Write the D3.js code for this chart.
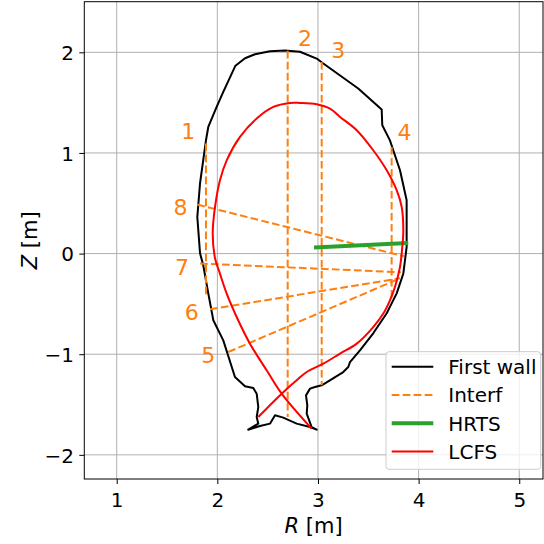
<!DOCTYPE html>
<html>
<head>
<meta charset="utf-8">
<script src="https://cdn.jsdelivr.net/npm/d3@7"></script>
<style>
  body { margin: 0; background: #fff; }
  svg { font-family: "DejaVu Sans", sans-serif; }
</style>
</head>
<body>
<div id="chart"></div>
<script>
// first wall contour (R, Z in m)
const wallR = [2.672, 2.821, 2.987, 3.053, 3.400, 3.633, 3.639, 3.715, 3.815, 3.881, 3.881, 3.881,
  3.848, 3.782, 3.683, 3.549, 3.417, 3.318, 3.301, 3.251, 3.037, 2.970, 2.921, 2.881, 2.894,
  2.888, 2.937, 2.987, 2.921, 2.788, 2.655, 2.573, 2.523, 2.424, 2.307, 2.407, 2.391, 2.407,
  2.391, 2.357, 2.275, 2.175, 2.059, 1.960, 1.910, 1.860, 1.828, 1.801, 1.828, 1.887, 1.910,
  1.990, 2.059, 2.180, 2.275, 2.374, 2.523, 2.672];
const wallZ = [2.018, 2.006, 1.938, 1.889, 1.640, 1.431, 1.275, 1.125, 0.828, 0.530, 0.232, 0.066,
  -0.199, -0.395, -0.593, -0.792, -0.961, -1.078, -1.127, -1.177, -1.309, -1.326, -1.342, -1.409, -1.508,
  -1.590, -1.724, -1.750, -1.724, -1.690, -1.630, -1.607, -1.690, -1.714, -1.750, -1.690, -1.624, -1.525,
  -1.392, -1.336, -1.319, -1.227, -0.862, -0.663, -0.395, -0.116, 0.003, 0.364, 0.699, 1.126, 1.258,
  1.450, 1.606, 1.867, 1.941, 1.981, 2.011, 2.018];

// last closed flux surface
const lcfsR = [2.937, 2.639, 2.490, 2.324, 2.192, 2.093, 2.026, 1.977, 1.954, 1.977, 2.026, 2.093,
  2.225, 2.391, 2.556, 2.722, 2.821, 2.987, 3.119, 3.219, 3.385, 3.549, 3.683, 3.782, 3.832,
  3.848, 3.838, 3.815, 3.765, 3.715, 3.649, 3.549, 3.385, 3.219, 3.053, 2.888, 2.788, 2.639, 2.407];
const lcfsZ = [-1.740, -1.392, -1.160, -0.895, -0.630, -0.398, -0.199, -0.047, 0.199, 0.463, 0.729, 0.927,
  1.159, 1.342, 1.457, 1.497, 1.497, 1.484, 1.441, 1.358, 1.226, 1.027, 0.828, 0.630, 0.463,
  0.232, 0.066, -0.133, -0.332, -0.464, -0.596, -0.730, -0.895, -0.994, -1.093, -1.177, -1.259, -1.392, -1.624];

// interferometer chords 1..8
const chordNames = ["1", "2", "3", "4", "5", "6", "7", "8"];
const chordR1 = [1.887, 2.699, 3.037, 3.732, 2.109, 1.927, 1.828, 1.801];
const chordZ1 = [1.093, 2.015, 1.905, 1.060, -0.978, -0.553, -0.099, 0.487];
const chordR2 = [1.887, 2.699, 3.037, 3.732, 3.815, 3.815, 3.825, 3.854];
const chordZ2 = [-0.415, -1.625, -1.309, -0.447, -0.246, -0.246, -0.186, -0.027];
const labelR = [1.711, 2.871, 3.202, 3.859, 1.910, 1.745, 1.649, 1.634];
const labelZ = [1.143, 2.064, 1.948, 1.133, -1.087, -0.656, -0.209, 0.381];

// Thomson scattering line of sight
const hrtsR = [2.961, 3.897];
const hrtsZ = [0.060, 0.105];

const xTicks = [1, 2, 3, 4, 5];
const yTicks = [-2, -1, 0, 1, 2];
const legendLabels = ["First wall", "Interf", "HRTS", "LCFS"];

const width = 544;
const height = 544;
const orange = "#ff7f0e";
const green = "#2ca02c";

const x = d3.scaleLinear().domain([0.678, 5.236]).range([84.3, 543]);
const y = d3.scaleLinear().domain([-2.24, 2.503]).range([479, 1.7]);

const svg = d3
  .select("#chart")
  .append("svg")
  .attr("width", width)
  .attr("height", height);

const minus = d => (d < 0 ? "\u2212" + Math.abs(d) : String(d));

// grid
svg
  .append("g")
  .selectAll("line")
  .data(xTicks)
  .enter()
  .append("line")
  .attr("x1", d => x(d))
  .attr("x2", d => x(d))
  .attr("y1", y.range()[0])
  .attr("y2", y.range()[1])
  .attr("stroke", "#b0b0b0")
  .attr("stroke-width", 1);

svg
  .append("g")
  .selectAll("line")
  .data(yTicks)
  .enter()
  .append("line")
  .attr("x1", x.range()[0])
  .attr("x2", x.range()[1])
  .attr("y1", d => y(d))
  .attr("y2", d => y(d))
  .attr("stroke", "#b0b0b0")
  .attr("stroke-width", 1);

const line = d3.line().x(d => x(d[0])).y(d => y(d[1]));

// first wall
svg
  .append("path")
  .datum(wallR.map((r, i) => [r, wallZ[i]]))
  .attr("d", line)
  .attr("fill", "none")
  .attr("stroke", "#000")
  .attr("stroke-width", 2)
  .attr("stroke-linejoin", "round");

// chords
svg
  .append("g")
  .selectAll("line")
  .data(chordNames)
  .enter()
  .append("line")
  .attr("x1", (d, i) => x(chordR1[i]))
  .attr("y1", (d, i) => y(chordZ1[i]))
  .attr("x2", (d, i) => x(chordR2[i]))
  .attr("y2", (d, i) => y(chordZ2[i]))
  .attr("stroke", orange)
  .attr("stroke-width", 2)
  .attr("stroke-dasharray", "7.7,3.3");

svg
  .append("g")
  .selectAll("text")
  .data(chordNames)
  .enter()
  .append("text")
  .attr("x", (d, i) => x(labelR[i]))
  .attr("y", (d, i) => y(labelZ[i]))
  .attr("text-anchor", "middle")
  .attr("font-size", 22)
  .attr("fill", orange)
  .text(d => d);

// HRTS
svg
  .append("path")
  .datum(hrtsR.map((r, i) => [r, hrtsZ[i]]))
  .attr("d", line)
  .attr("stroke", green)
  .attr("stroke-width", 4);

// LCFS
svg
  .append("path")
  .datum(lcfsR.map((r, i) => [r, lcfsZ[i]]))
  .attr("d", line.curve(d3.curveCatmullRom))
  .attr("fill", "none")
  .attr("stroke", "red")
  .attr("stroke-width", 2);

// axes
const xAxis = svg
  .append("g")
  .attr("transform", `translate(0,${y.range()[0]})`)
  .call(d3.axisBottom(x).tickValues(xTicks).tickSize(5).tickFormat(minus));

const yAxis = svg
  .append("g")
  .attr("transform", `translate(${x.range()[0]},0)`)
  .call(d3.axisLeft(y).tickValues(yTicks).tickSize(5).tickFormat(minus));

[xAxis, yAxis].forEach(a => {
  a.select(".domain").remove();
  a.selectAll("line").attr("stroke", "#000").attr("stroke-width", 1);
  a.selectAll("text").attr("font-size", 20).attr("fill", "#000").attr("font-family", "DejaVu Sans");
});
xAxis.selectAll("text").attr("y", 27.7).attr("dy", null);
yAxis.selectAll("text").attr("x", -10.3).attr("dy", "0.36em");

// frame
svg
  .append("rect")
  .attr("x", x.range()[0])
  .attr("y", y.range()[1])
  .attr("width", x.range()[1] - x.range()[0])
  .attr("height", y.range()[0] - y.range()[1])
  .attr("fill", "none")
  .attr("stroke", "#000")
  .attr("stroke-width", 1);

// axis labels
const xl = svg
  .append("text")
  .attr("x", (x.range()[0] + x.range()[1]) / 2)
  .attr("y", 533)
  .attr("text-anchor", "middle")
  .attr("font-size", 21);
xl.append("tspan").attr("font-style", "italic").text("R");
xl.append("tspan").text(" [m]");

const yl = svg
  .append("text")
  .attr("transform", `translate(37,${(y.range()[0] + y.range()[1]) / 2}) rotate(-90)`)
  .attr("text-anchor", "middle")
  .attr("font-size", 21);
yl.append("tspan").attr("font-style", "italic").text("Z");
yl.append("tspan").text(" [m]");

// legend
const legend = svg.append("g");
legend
  .append("rect")
  .attr("x", 386)
  .attr("y", 351.7)
  .attr("width", 154.7)
  .attr("height", 117.6)
  .attr("rx", 3)
  .attr("fill", "#fff")
  .attr("fill-opacity", 0.8)
  .attr("stroke", "#cccccc")
  .attr("stroke-width", 1);

const legendStyle = [
  { color: "#000", w: 2, dash: null },
  { color: orange, w: 2, dash: "7.7,3.3" },
  { color: green, w: 4, dash: null },
  { color: "red", w: 2, dash: null }
];

const entry = legend
  .selectAll(".entry")
  .data(legendLabels)
  .enter()
  .append("g")
  .attr("transform", (d, i) => `translate(0,${366.7 + i * 28.3})`);

entry
  .append("line")
  .attr("x1", 391.7)
  .attr("x2", 433.3)
  .attr("stroke", (d, i) => legendStyle[i].color)
  .attr("stroke-width", (d, i) => legendStyle[i].w)
  .attr("stroke-dasharray", (d, i) => legendStyle[i].dash);

entry
  .append("text")
  .attr("x", 448.3)
  .attr("dy", "0.36em")
  .attr("font-size", 20)
  .text(d => d);
</script>
</body>
</html>
